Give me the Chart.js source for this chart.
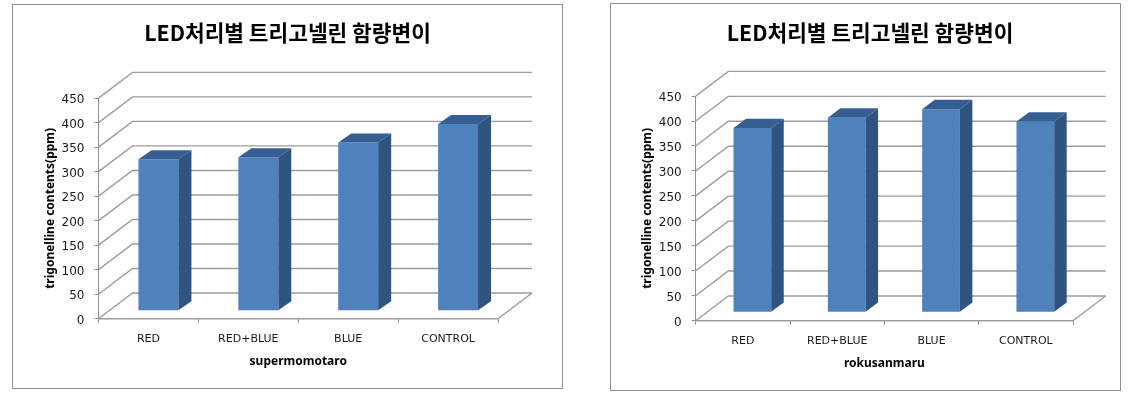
<!DOCTYPE html>
<html>
<head>
<meta charset="utf-8">
<style>
    html, body { margin: 0; padding: 0; background: #fff; overflow: hidden; }
    .box { position: absolute; box-sizing: border-box; border: 1px solid #8f8f8f; }
    canvas { position: absolute; left: -1px; top: -1px; filter: blur(0.4px); }
</style>
<script src="https://cdn.jsdelivr.net/npm/chart.js@4/dist/chart.umd.min.js"></script>
</head>
<body>
<div class="box" style="left:12px;top:4px;width:551px;height:385px"><canvas id="chart1" width="551" height="385"></canvas></div>
<div class="box" style="left:610px;top:3px;width:511px;height:388px"><canvas id="chart2" width="511" height="388"></canvas></div>
<script>
const chartTitle = "LED처리별 트리고넬린 함량변이";
const yAxisTitle = "trigonelline contents(ppm)";
const categories = ["RED", "RED+BLUE", "BLUE", "CONTROL"];
const supermomotaro = [309, 313, 343, 381];
const rokusanmaru = [369, 390, 407, 382];

// fake 3d bars: the library draws the front face, this plugin adds the rest
const depthPlugin = {
    id: "depth",
    beforeDatasetsDraw(chart, args, opts) {
        let ctx = chart.ctx, area = chart.chartArea, y = chart.scales.y;
        ctx.save();
        ctx.strokeStyle = "#9c9c9c";
        ctx.lineWidth = 1.4;
        y.ticks.forEach(function (t) {
            let py = y.getPixelForValue(t.value);
            ctx.beginPath();
            ctx.moveTo(area.left, py);
            ctx.lineTo(area.left + opts.wallX, py - opts.wallY);
            ctx.lineTo(area.right + opts.wallX, py - opts.wallY);
            ctx.stroke();
        });
        // right edge of the floor
        ctx.beginPath();
        ctx.moveTo(area.right, area.bottom);
        ctx.lineTo(area.right + opts.wallX, area.bottom - opts.wallY);
        ctx.stroke();
        ctx.restore();
    },
    beforeDatasetDraw(chart, args, opts) {
        chart.ctx.save();
        chart.ctx.translate(opts.barX, -opts.barY);
    },
    afterDatasetDraw(chart, args, opts) {
        let ctx = chart.ctx;
        args.meta.data.forEach(function (bar) {
            let l = bar.x - bar.width / 2, r = bar.x + bar.width / 2;
            ctx.fillStyle = "#2f5480";
            ctx.beginPath();
            ctx.moveTo(r, bar.y);
            ctx.lineTo(r + opts.sideX, bar.y - opts.sideY);
            ctx.lineTo(r + opts.sideX, bar.base - opts.sideY);
            ctx.lineTo(r, bar.base);
            ctx.closePath();
            ctx.fill();
            ctx.fillStyle = "#355f92";
            ctx.beginPath();
            ctx.moveTo(l, bar.y);
            ctx.lineTo(l + opts.sideX, bar.y - opts.sideY);
            ctx.lineTo(r + opts.sideX, bar.y - opts.sideY);
            ctx.lineTo(r, bar.y);
            ctx.closePath();
            ctx.fill();
        });
        ctx.restore();
    }
};

function makeChart(id, name, values, geo) {
    let ctx = document.getElementById(id).getContext("2d");
    return new Chart(ctx, {
        type: "bar",
        data: {
            labels: categories,
            datasets: [{
                data: values,
                backgroundColor: "#4f81bd",
                barPercentage: 0.4,
                categoryPercentage: 1,
                clip: false
            }]
        },
        options: {
            responsive: false,
            animation: false,
            layout: { padding: { left: geo.padLeft, right: 0, top: 0, bottom: 0 } },
            plugins: {
                legend: { display: false },
                tooltip: { enabled: false },
                title: {
                    display: true,
                    text: chartTitle,
                    color: "#000",
                    font: { family: "'Noto Sans CJK KR'", size: 21.4, weight: "bold", lineHeight: 1.2 },
                    padding: { top: geo.titleTop, bottom: geo.titleBottom }
                },
                depth: geo.depth
            },
            scales: {
                x: {
                    afterFit(s) { s.height = geo.xHeight; },
                    border: { color: "#9c9c9c", width: 1.4 },
                    grid: { drawOnChartArea: false, tickLength: 4, color: "#8f8f8f" },
                    ticks: { color: "#1a1a1a", padding: 10, maxRotation: 0, font: { family: "'DejaVu Sans'", size: 11 } },
                    title: {
                        display: true,
                        text: name,
                        color: "#000",
                        font: { family: "'Noto Sans'", size: 12, weight: "bold", lineHeight: 1.2 },
                        padding: { top: 0, bottom: 20 }
                    }
                },
                y: {
                    min: 0,
                    max: 450,
                    afterFit(s) { s.width = geo.yWidth; },
                    border: { color: "#8f8f8f", width: 1 },
                    grid: { drawOnChartArea: false, tickLength: 4, color: "#8f8f8f" },
                    ticks: {
                        stepSize: 50,
                        color: "#1a1a1a",
                        padding: 10,
                        // blank first line plus a short line height drops the label 2px
                        callback: function (v) { return ["", String(v)]; },
                        font: { family: "'DejaVu Sans'", size: 12, lineHeight: 0.34 }
                    },
                    title: {
                        display: true,
                        text: yAxisTitle,
                        color: "#000",
                        font: { family: "'Noto Sans'", size: 12, weight: "bold", lineHeight: 1.2 },
                        padding: { top: geo.yTitleTop, bottom: 0 }
                    }
                },
                // empty axis, only keeps room on the right so the title stays centred on the box
                spare: {
                    position: "right",
                    afterFit(s) { s.width = geo.spareRight; },
                    border: { display: false },
                    grid: { display: false },
                    ticks: { display: false }
                }
            }
        },
        plugins: [depthPlugin]
    });
}

makeChart("chart1", "supermomotaro", supermomotaro, {
    padLeft: 0, spareRight: 65, titleTop: 16, titleBottom: 52.4,
    xHeight: 70.3, yWidth: 86.5, yTitleTop: 31,
    depth: { wallX: 34, wallY: 25.7, barX: 10, barY: 8, sideX: 13, sideY: 9 }
});

makeChart("chart2", "rokusanmaru", rokusanmaru, {
    padLeft: 9, spareRight: 48, titleTop: 17, titleBottom: 50.4,
    xHeight: 70.3, yWidth: 76.7, yTitleTop: 21,
    depth: { wallX: 32.6, wallY: 24.7, barX: 9.5, barY: 8.4, sideX: 12.5, sideY: 9.3 }
});
</script>
</body>
</html>
